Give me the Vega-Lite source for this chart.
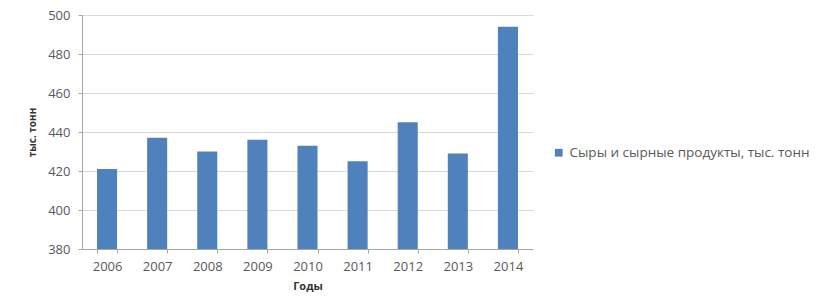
{
  "$schema": "https://vega.github.io/schema/vega-lite/v6.json",
  "width": 451,
  "height": 234,
  "autosize": {"type": "none"},
  "padding": {"left": 82, "top": 15, "right": 304, "bottom": 59},
  "background": "white",
  "data": {
    "values": [
      {"year": "2006", "value": 421, "series": "Сыры и сырные продукты, тыс. тонн"},
      {"year": "2007", "value": 437, "series": "Сыры и сырные продукты, тыс. тонн"},
      {"year": "2008", "value": 430, "series": "Сыры и сырные продукты, тыс. тонн"},
      {"year": "2009", "value": 436, "series": "Сыры и сырные продукты, тыс. тонн"},
      {"year": "2010", "value": 433, "series": "Сыры и сырные продукты, тыс. тонн"},
      {"year": "2011", "value": 425, "series": "Сыры и сырные продукты, тыс. тонн"},
      {"year": "2012", "value": 445, "series": "Сыры и сырные продукты, тыс. тонн"},
      {"year": "2013", "value": 429, "series": "Сыры и сырные продукты, тыс. тонн"},
      {"year": "2014", "value": 494, "series": "Сыры и сырные продукты, тыс. тонн"}
    ]
  },
  "mark": {"type": "bar", "clip": true},
  "encoding": {
    "x": {
      "field": "year",
      "type": "nominal",
      "scale": {"paddingInner": 0.6, "paddingOuter": 0.3},
      "axis": {
        "title": "Годы",
        "titleFont": "Open Sans",
        "titleFontSize": 11,
        "titleFontWeight": "bold",
        "titleColor": "#333333",
        "titlePadding": 7,
        "labelAngle": 0,
        "labelFont": "Open Sans",
        "labelFontSize": 13,
        "labelColor": "#595959",
        "labelPadding": 7,
        "tickBand": "extent",
        "tickColor": "#a6a6a6",
        "tickSize": 4,
        "domainColor": "#a6a6a6",
        "grid": false
      }
    },
    "y": {
      "field": "value",
      "type": "quantitative",
      "scale": {"domain": [380, 500], "zero": false, "nice": false},
      "axis": {
        "title": "тыс. тонн",
        "titleFont": "Open Sans",
        "titleFontSize": 10,
        "titleFontWeight": "bold",
        "titleColor": "#333333",
        "titlePadding": 10,
        "values": [380, 400, 420, 440, 460, 480, 500],
        "labelFont": "Open Sans",
        "labelFontSize": 13,
        "labelColor": "#595959",
        "labelPadding": 8,
        "tickColor": "#a6a6a6",
        "tickSize": 4,
        "domainColor": "#a6a6a6",
        "gridColor": "#d9d9d9",
        "gridWidth": 1
      }
    },
    "color": {
      "field": "series",
      "type": "nominal",
      "scale": {"range": ["#4F81BD"]},
      "legend": {
        "title": null,
        "orient": "none",
        "legendX": 470,
        "legendY": 131,
        "symbolType": "square",
        "symbolSize": 60,
        "labelFont": "Open Sans",
        "labelFontSize": 13.5,
        "labelColor": "#595959",
        "labelLimit": 400
      }
    }
  },
  "config": {
    "view": {"stroke": null}
  }
}
